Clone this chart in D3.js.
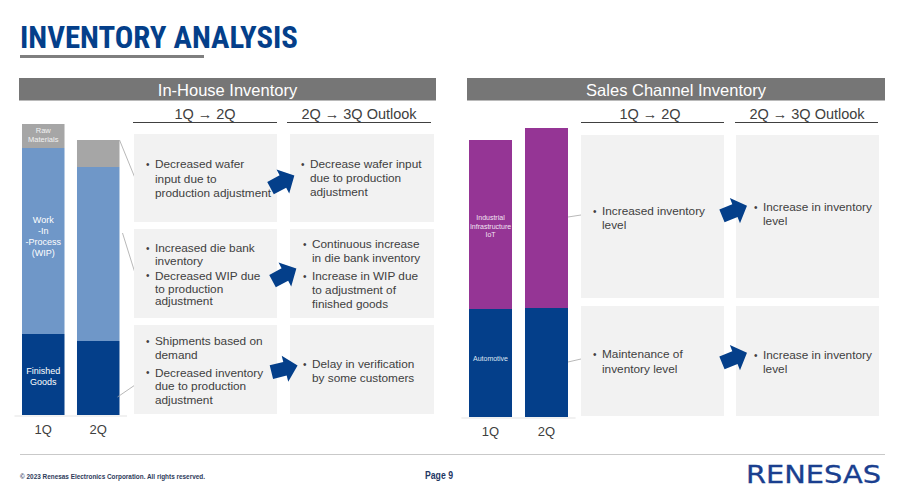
<!DOCTYPE html>
<html><head><meta charset="utf-8">
<script src="https://cdn.jsdelivr.net/npm/d3@7"></script>
<style>body{margin:0;background:#fff}svg{display:block}</style>
</head><body><svg id="c" width="899" height="491"></svg>
<script>
// ---- data ----
const quarters = ["1Q", "2Q"];
const inHouseSeries = ["Finished Goods", "WIP", "Raw Materials"];
const finishedGoods = [81, 74];
const wip = [186, 174];
const rawMaterials = [24, 27];
const channelSeries = ["Automotive", "Industrial Infrastructure IoT"];
const automotive = [108, 109];
const industrial = [169, 180];
const inHouseBarLabels = [["Finished", "Goods"], ["Work", "-In", "-Process", "(WIP)"], ["Raw", "Materials"]];
const channelBarLabels = [["Automotive"], ["Industrial", "Infrastructure", "IoT"]];
const colHeaders = ["1Q \u2192 2Q", "2Q \u2192 3Q Outlook"];
const inHouseText = [
  [[["Decreased wafer", "input due to", "production adjustment"]], [["Decrease wafer input", "due to production", "adjustment"]]],
  [[["Increased die bank", "inventory"], ["Decreased WIP due", "to production", "adjustment"]], [["Continuous increase", "in die bank inventory"], ["Increase in WIP due", "to adjustment of", "finished goods"]]],
  [[["Shipments based on", "demand"], ["Decreased inventory", "due to production", "adjustment"]], [["Delay in verification", "by some customers"]]]
];
const channelText = [
  [[["Increased inventory", "level"]], [["Increase in inventory", "level"]]],
  [[["Maintenance of", "inventory level"]], [["Increase in inventory", "level"]]]
];

const svg = d3.select("#c");
const NAVY = "#043f8a", TXT = "#404040", BOX = "#f2f2f2";
const FONT = "'Liberation Sans', Arial, sans-serif";

// title
svg.append("text").attr("x", 20).attr("y", 48).text("INVENTORY ANALYSIS")
  .attr("font-family", "'Liberation Sans Narrow', 'Roboto Condensed', 'Liberation Sans', sans-serif")
  .attr("font-weight", "bold").attr("font-size", 32).attr("fill", NAVY)
  .attr("textLength", 278).attr("lengthAdjust", "spacingAndGlyphs");
svg.append("rect").attr("x", 20).attr("y", 55).attr("width", 184).attr("height", 3).attr("fill", "#7f7f7f");

// section headers
function header(x, w, label) {
  svg.append("rect").attr("x", x).attr("y", 78).attr("width", w).attr("height", 22.5).attr("fill", "#767676");
  svg.append("text").attr("x", x + w / 2).attr("y", 96).attr("text-anchor", "middle")
    .attr("font-family", FONT).attr("font-size", 16.5).attr("fill", "#fff").text(label);
}
header(19, 417, "In-House Inventory");
header(467, 418, "Sales Channel Inventory");

function subHeaders(cols) {
  cols.forEach((c, i) => {
    svg.append("text").attr("x", c.cx).attr("y", 119).attr("text-anchor", "middle")
      .attr("font-family", FONT).attr("font-size", 14.5).attr("fill", TXT).text(colHeaders[i]);
    svg.append("line").attr("x1", c.x0).attr("x2", c.x1).attr("y1", 122.5).attr("y2", 122.5)
      .attr("stroke", "#404040").attr("stroke-width", 1);
  });
}
subHeaders([{cx: 205, x0: 133, x1: 277}, {cx: 359, x0: 287, x1: 431}]);
subHeaders([{cx: 650, x0: 581, x1: 724}, {cx: 807, x0: 735, x1: 878}]);

// stacked bars
function stackedBars(opt) {
  const rows = quarters.map((q, i) => {
    const o = {q};
    opt.keys.forEach((k, j) => o[k] = opt.values[j][i]);
    return o;
  });
  const stack = d3.stack().keys(opt.keys)(rows);
  const x = d3.scaleBand().domain(quarters).range(opt.xRange).paddingInner(opt.padIn).paddingOuter(opt.padOut);
  const y = d3.scaleLinear().domain(opt.yDomain).range([opt.base, opt.top]);
  const g = svg.append("g");
  g.append("line").attr("x1", opt.xRange[0] - 2).attr("x2", opt.xRange[1] + 2).attr("y1", opt.base + 1).attr("y2", opt.base + 1)
    .attr("stroke", "#e3e3e3").attr("stroke-width", 1);
  stack.forEach((s, j) => {
    g.selectAll(null).data(s).enter().append("rect")
      .attr("x", d => x(d.data.q)).attr("width", x.bandwidth())
      .attr("y", d => y(d[1])).attr("height", d => y(d[0]) - y(d[1]))
      .attr("fill", opt.colors[j]);
  });
  // labels on first bar
  stack.forEach((s, j) => {
    const d = s[0];
    const lines = opt.labels[j];
    const cy = (y(d[0]) + y(d[1])) / 2 + (opt.labelShift ? opt.labelShift[j] : 0);
    const lh = opt.labelSize[j] * 1.22;
    const t = g.append("text").attr("text-anchor", "middle").attr("font-family", FONT)
      .attr("font-size", opt.labelSize[j]).attr("fill", opt.labelColor[j]);
    lines.forEach((l, k) => t.append("tspan").attr("x", x(quarters[0]) + x.bandwidth() / 2)
      .attr("y", cy + (k - (lines.length - 1) / 2) * lh + opt.labelSize[j] * 0.35).text(l));
  });
  // axis labels
  const ax = g.append("g").attr("transform", `translate(0,${opt.base})`)
    .call(d3.axisBottom(x).tickSize(0).tickPadding(opt.tickPad));
  ax.select(".domain").remove();
  ax.selectAll("text").attr("font-family", FONT).attr("font-size", 13).attr("fill", TXT);
  return {x, y, stack};
}

const L = stackedBars({
  keys: inHouseSeries, values: [finishedGoods, wip, rawMaterials],
  xRange: [16.5, 125], padIn: 0.227, padOut: 0.1, base: 415, top: 124, yDomain: [0, 291],
  colors: [NAVY, "#6f97c8", "#a6a6a6"], labels: inHouseBarLabels,
  labelSize: [9, 9, 7.5], labelColor: ["#fff", "#fff", "#f2f2f2"], labelShift: [2, -5, -1], tickPad: 10
});
const R = stackedBars({
  keys: channelSeries, values: [automotive, industrial],
  xRange: [463.4, 573.6], padIn: 0.232, padOut: 0.1, base: 417, top: 128, yDomain: [0, 289],
  colors: [NAVY, "#953595"], labels: channelBarLabels,
  labelSize: [7, 7], labelColor: ["#dfe6f2", "#f3e3f3"], labelShift: [-4, 2], tickPad: 10
});

// connector lines
function conn(x1, y1, x2, y2) {
  svg.append("line").attr("x1", x1).attr("y1", y1).attr("x2", x2).attr("y2", y2)
    .attr("stroke", "#a6a6a6").attr("stroke-width", 0.8);
}
const b2L = L.x("2Q") + L.x.bandwidth();
conn(b2L, L.y(L.stack[2][1][1]), 135, 178);
conn(b2L + 3, 233, 135, 273);
conn(b2L - 2, 397, 135, 385);
const b2R = R.x("2Q") + R.x.bandwidth();
conn(b2R, 217, 581, 215);
conn(b2R, 362, 581, 359);

// boxes
const FS = 11.8;
function box(x, y, w, h, bullets, tx, firstY, lh, gap) {
  svg.append("rect").attr("x", x).attr("y", y).attr("width", w).attr("height", h).attr("fill", BOX);
  let cy = firstY;
  bullets.forEach((lines) => {
    svg.append("text").attr("x", tx - 9).attr("y", cy + 3.5).attr("font-family", FONT)
      .attr("font-size", 10).attr("fill", TXT).text("\u2022");
    lines.forEach((l, k) => {
      svg.append("text").attr("x", tx).attr("y", cy + 4.3 + k * lh).attr("font-family", FONT)
        .attr("font-size", FS).attr("fill", TXT).text(l);
    });
    cy += (lines.length - 1) * lh + gap;
  });
}
box(134, 134, 143, 88, inHouseText[0][0], 155, 164, 14.5, 0);
box(290, 134, 144, 88, inHouseText[0][1], 310, 164, 14, 0);
box(134, 229, 143, 89, inHouseText[1][0], 155, 248, 12.6, 15);
box(290, 229, 144, 89, inHouseText[1][1], 312, 244, 14, 18);
box(134, 325, 143, 89, inHouseText[2][0], 155, 341, 13.5, 18);
box(290, 325, 144, 89, inHouseText[2][1], 312, 364, 14, 0);
box(581, 135, 143, 163, channelText[0][0], 602, 211, 13.5, 0);
box(736, 135, 143, 163, channelText[0][1], 763, 207, 13.5, 0);
box(581, 306, 143, 110, channelText[1][0], 602, 354, 14.5, 0);
box(736, 306, 143, 110, channelText[1][1], 763, 355, 14, 0);

// arrows
function arrow(cx, cy, rot) {
  svg.append("path").attr("d", "M-13,-7 L1,-7 L1,-13.5 L14,0 L1,13.5 L1,7 L-13,7 Z")
    .attr("transform", `translate(${cx},${cy}) rotate(${rot})`).attr("fill", NAVY);
}
arrow(282, 182, -28);
arrow(284, 275, -28);
arrow(284, 369, -14);
arrow(734, 211, -22);
arrow(734, 358, -22);

// footer
svg.append("line").attr("x1", 20).attr("x2", 885).attr("y1", 454.5).attr("y2", 454.5).attr("stroke", "#c9c9c9").attr("stroke-width", 1);
svg.append("text").attr("x", 20).attr("y", 479).attr("font-family", "'Liberation Sans Narrow', 'Liberation Sans', sans-serif")
  .attr("font-weight", "bold").attr("font-size", 8).attr("fill", "#2d3a5a")
  .attr("textLength", 185).attr("lengthAdjust", "spacingAndGlyphs")
  .text("\u00a9 2023 Renesas Electronics Corporation. All rights reserved.");
svg.append("text").attr("x", 439).attr("y", 479).attr("text-anchor", "middle").attr("font-family", FONT)
  .attr("font-weight", "bold").attr("font-size", 10).attr("fill", "#1f3864")
  .attr("textLength", 28).attr("lengthAdjust", "spacingAndGlyphs").text("Page 9");
svg.append("text").attr("x", 746).attr("y", 483).attr("font-family", "'DejaVu Sans', sans-serif")
  .attr("font-size", 24).attr("fill", "#1a3f8f").attr("stroke", "#1a3f8f").attr("stroke-width", 0.3)
  .attr("textLength", 135).attr("lengthAdjust", "spacingAndGlyphs").text("RENESAS");
</script></body></html>
